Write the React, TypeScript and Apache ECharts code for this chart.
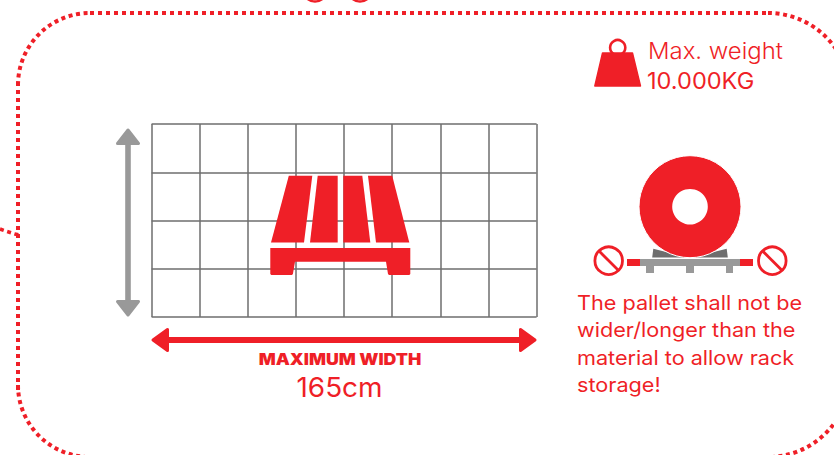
import React, { useEffect, useRef } from "react";
import * as echarts from "echarts";

const gridColumns = [0, 1, 2, 3, 4, 5, 6, 7, 8];
const gridRows = [0, 1, 2, 3, 4];
const weightLabel = "Max. weight";
const weightValue = "10.000KG";
const widthLabel = "MAXIMUM WIDTH";
const widthValue = "165cm";
const noteLines = [
  "The pallet shall not be",
  "wider/longer than the",
  "material to allow rack",
  "storage!",
];

const RED = "#EF1F27";
const GREY = "#999999";
const FONT = "Inter, 'Noto Sans', sans-serif";
const PI = Math.PI;

const dash = { stroke: RED, lineWidth: 4, lineDash: [4, 4], fill: "none" };
const arcDash = { stroke: RED, lineWidth: 4, lineDash: [4, 3.6], fill: "none" };

function txt(
  text: string,
  x: number,
  y: number,
  size: number,
  weight: number,
  scaleX: number,
  align: string = "left",
) {
  return {
    type: "text",
    x,
    y,
    scaleX,
    z: 20,
    style: {
      text,
      x: 0,
      y: 0,
      fill: RED,
      font: `${weight} ${size}px ${FONT}`,
      textAlign: align,
      textVerticalAlign: "middle",
    },
  };
}

function poly(points: number[][], fill: string, round = 0, z = 15) {
  return {
    type: "polygon",
    z,
    shape: { points },
    style: {
      fill,
      stroke: round ? fill : "none",
      lineWidth: round,
      lineJoin: "round",
    },
  };
}

function noSign(cx: number, cy: number) {
  return [
    {
      type: "circle",
      z: 15,
      shape: { cx, cy, r: 13.8 },
      style: { fill: "#fff", stroke: RED, lineWidth: 2.8 },
    },
    {
      type: "line",
      z: 16,
      shape: { x1: cx - 9.6, y1: cy - 9.6, x2: cx + 9.6, y2: cy + 9.6 },
      style: { stroke: RED, lineWidth: 2.8 },
    },
  ];
}

function buildOption() {
  const graphics: any[] = [
    // dotted outline
    { type: "line", z: 5, shape: { x1: 18, y1: 82, x2: 18, y2: 390 }, style: dash },
    { type: "line", z: 5, shape: { x1: 90, y1: 13, x2: 768, y2: 13 }, style: dash },
    { type: "line", z: 5, shape: { x1: 90, y1: 457, x2: 768, y2: 457 }, style: dash },
    { type: "arc", z: 5, shape: { cx: 90, cy: 85, r: 72, startAngle: PI, endAngle: 1.5 * PI, clockwise: true }, style: arcDash },
    { type: "arc", z: 5, shape: { cx: 768, cy: 95, r: 82, startAngle: 1.5 * PI, endAngle: 2 * PI, clockwise: true }, style: arcDash },
    { type: "arc", z: 5, shape: { cx: 768, cy: 375, r: 82, startAngle: 0, endAngle: 0.5 * PI, clockwise: true }, style: arcDash },
    { type: "arc", z: 5, shape: { cx: 90, cy: 385, r: 72, startAngle: PI, endAngle: 0.5 * PI, clockwise: false }, style: arcDash },
    {
      type: "polyline",
      z: 5,
      shape: { points: [[0, 229], [7, 231.5], [15, 234], [19, 235]] },
      style: { ...arcDash, lineWidth: 3.6 },
    },
    // clipped descenders of the title above the frame
    { type: "arc", z: 5, shape: { cx: 315, cy: -10.5, r: 12, startAngle: 0.2 * PI, endAngle: 0.8 * PI, clockwise: true }, style: { stroke: RED, lineWidth: 2.4, fill: "none" } },
    { type: "arc", z: 5, shape: { cx: 360, cy: -10.5, r: 12, startAngle: 0.2 * PI, endAngle: 0.8 * PI, clockwise: true }, style: { stroke: RED, lineWidth: 2.4, fill: "none" } },

    // grey height arrow
    { type: "line", z: 10, shape: { x1: 128, y1: 140, x2: 128, y2: 305 }, style: { stroke: GREY, lineWidth: 5.6 } },
    poly([[128, 130], [138.5, 143.5], [117.5, 143.5]], GREY, 3),
    poly([[128, 315], [138.5, 301.5], [117.5, 301.5]], GREY, 3),

    // red width arrow
    { type: "line", z: 10, shape: { x1: 165, y1: 340, x2: 523, y2: 340 }, style: { stroke: RED, lineWidth: 5.8 } },
    poly([[153, 340], [167.5, 329.5], [167.5, 350.5]], RED, 3),
    poly([[535, 340], [520.5, 329.5], [520.5, 350.5]], RED, 3),

    // pallet planks
    poly([[288.8, 175.7], [312.3, 175.7], [304, 242.4], [271, 242.4]], RED),
    poly([[317.7, 175.7], [337.7, 175.7], [337.7, 242.4], [310, 242.4]], RED),
    poly([[343.3, 175.7], [362.3, 175.7], [370.3, 242.4], [343.3, 242.4]], RED),
    poly([[368, 175.7], [392.2, 175.7], [409.3, 242.4], [376, 242.4]], RED),
    poly(
      [[270.3, 248], [410.3, 248], [410.3, 274], [409.3, 275], [389, 275], [388, 274],
       [386, 261.7], [295, 261.7], [292.9, 274], [292, 275], [271.3, 275], [270.3, 274]],
      RED,
    ),

    // weight icon
    { type: "circle", z: 14, shape: { cx: 617.7, cy: 47.6, r: 7.6 }, style: { fill: "none", stroke: RED, lineWidth: 2.6 } },
    poly([[602.5, 53], [632.5, 53], [640.5, 86], [594.8, 86]], RED, 1.4),

    // roll on pallet
    poly([[653.3, 248.7], [690, 258], [726.7, 248.7], [727.8, 257.4], [652.2, 257.4]], "#6E6E6E", 0, 12),
    { type: "rect", z: 13, shape: { x: 640, y: 259, width: 100, height: 7 }, style: { fill: GREY } },
    { type: "rect", z: 13, shape: { x: 627, y: 259, width: 13, height: 7 }, style: { fill: RED } },
    { type: "rect", z: 13, shape: { x: 740, y: 259, width: 13, height: 7 }, style: { fill: RED } },
    { type: "rect", z: 13, shape: { x: 646, y: 266, width: 8, height: 7 }, style: { fill: GREY } },
    { type: "rect", z: 13, shape: { x: 686, y: 266, width: 8, height: 7 }, style: { fill: GREY } },
    { type: "rect", z: 13, shape: { x: 726, y: 266, width: 7, height: 7 }, style: { fill: GREY } },
    { type: "circle", z: 14, shape: { cx: 690, cy: 206.7, r: 51 }, style: { fill: RED, stroke: "#fff", lineWidth: 1 } },
    { type: "circle", z: 15, shape: { cx: 690, cy: 206.7, r: 17.8 }, style: { fill: "#fff" } },
    ...noSign(608.7, 260.7),
    ...noSign(772.3, 260.7),

    // texts
    txt(weightLabel, 648, 50.5, 23, 300, 1.04),
    txt(weightValue, 647, 80.5, 23, 400, 1.025),
    txt(widthLabel, 340, 359.5, 16, 900, 1.11, "center"),
    txt(widthValue, 339.5, 387.5, 27, 400, 1.035, "center"),
    ...noteLines.map((line, i) => txt(line, 577, 303 + i * 27.3, 20, 400, 1.082)),
  ];

  return {
    animation: false,
    backgroundColor: "#ffffff",
    grid: { left: 151.6, top: 124, width: 385, height: 193, containLabel: false },
    xAxis: {
      type: "value",
      min: gridColumns[0],
      max: gridColumns[gridColumns.length - 1],
      interval: 1,
      axisLine: { show: false },
      axisTick: { show: false },
      axisLabel: { show: false },
      splitLine: { show: true, lineStyle: { color: "#6E6E6E", width: 1.5 } },
    },
    yAxis: {
      type: "value",
      min: gridRows[0],
      max: gridRows[gridRows.length - 1],
      interval: 1,
      axisLine: { show: false },
      axisTick: { show: false },
      axisLabel: { show: false },
      splitLine: { show: true, lineStyle: { color: "#6E6E6E", width: 1.5 } },
    },
    series: [],
    graphic: { elements: graphics },
  };
}

export default function App() {
  const ref = useRef<HTMLDivElement>(null);
  useEffect(() => {
    document.body.style.margin = "0";
    const chart = echarts.init(ref.current!, undefined, { renderer: "svg" });
    chart.setOption(buildOption() as any);
    return () => chart.dispose();
  }, []);
  return <div ref={ref} style={{ width: 834, height: 455, overflow: "hidden" }} />;
}
